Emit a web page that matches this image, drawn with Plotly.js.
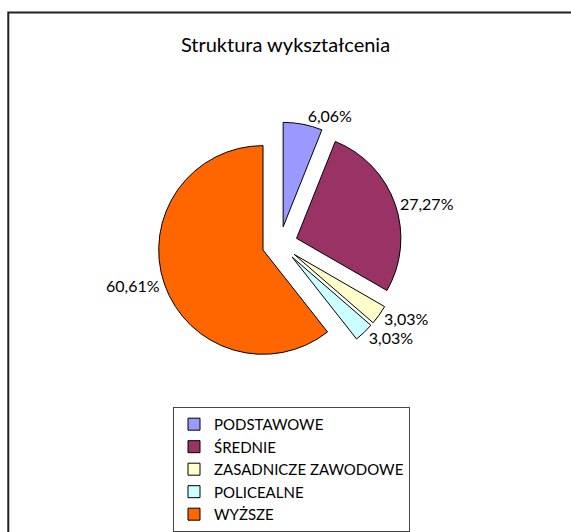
<!DOCTYPE html>
<html>
<head>
<meta charset="utf-8">
<script src="https://cdn.plot.ly/plotly-3.0.1.min.js"></script>
<style>html,body{margin:0;padding:0;background:#fff;}#chart{width:571px;height:532px;}</style>
</head>
<body>
<div id="chart"></div>
<script>
var categories = ["PODSTAWOWE", "ŚREDNIE", "ZASADNICZE ZAWODOWE", "POLICEALNE", "WYŻSZE"];
var shares = [6.06, 27.27, 3.03, 3.03, 60.61];
var colors = ["#9999FF", "#993366", "#FFFFCC", "#CCFFFF", "#FF6600"];
var chartTitle = "Struktura wykształcenia";

var total = shares.reduce(function(a, b) { return a + b; }, 0);
var labelsText = shares.map(function(v) {
  return (v / total * 100).toFixed(2).replace(".", ",") + "%";
});

var trace = {
  type: "pie",
  labels: categories,
  values: shares,
  text: labelsText,
  textinfo: "text",
  texttemplate: "%{text}",
  textposition: "outside",
  sort: false,
  direction: "clockwise",
  rotation: 0,
  pull: [0.17, 0.17, 0.17, 0.17, 0.17],
  marker: { colors: colors, line: { color: "#000000", width: 1 } },
  outsidetextfont: { family: "Lato, 'Open Sans', sans-serif", size: 16, color: "#000000" },
  domain: { x: [0.2, 0.78], y: [0.3064, 0.7688] },
  hoverinfo: "none"
};

var layout = {
  width: 571,
  height: 532,
  margin: { l: 0, r: 0, t: 0, b: 0 },
  paper_bgcolor: "#ffffff",
  font: { family: "Lato, 'Open Sans', sans-serif", color: "#000000" },
  title: {
    text: chartTitle,
    font: { size: 20, color: "#000000" },
    x: 0.5, xanchor: "center",
    y: 0.915, yanchor: "middle", yref: "container"
  },
  showlegend: true,
  legend: {
    x: 0.303, xanchor: "left",
    y: 0.2293, yanchor: "top",
    bgcolor: "#ffffff",
    bordercolor: "#444444",
    borderwidth: 1,
    font: { size: 15, color: "#000000" },
    traceorder: "normal"
  },
  shapes: [{
    type: "rect", xref: "paper", yref: "paper",
    x0: 0.0145, x1: 1.2, y0: -0.2, y1: 0.9765,
    line: { color: "#222222", width: 2 },
    fillcolor: "rgba(0,0,0,0)",
    layer: "below"
  }]
};

Plotly.newPlot("chart", [trace], layout, { staticPlot: true, displayModeBar: false });
</script>
</body>
</html>
